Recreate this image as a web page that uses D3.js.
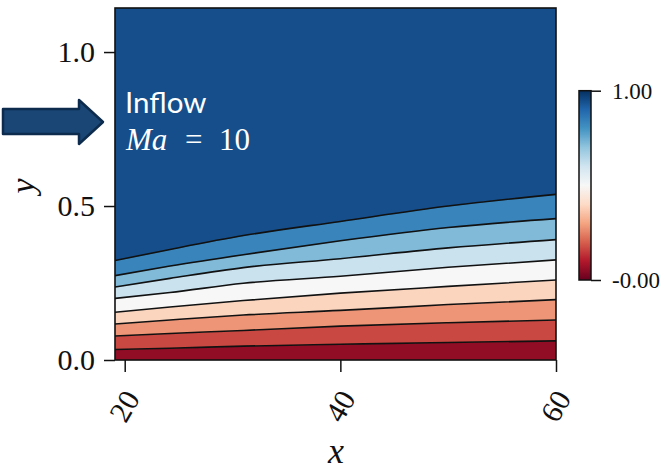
<!DOCTYPE html>
<html>
<head>
<meta charset="utf-8">
<script src="https://cdn.jsdelivr.net/npm/d3@7"></script>
<style>
  html, body { margin: 0; padding: 0; background: #ffffff; }
  svg { display: block; }
</style>
</head>
<body>
<svg id="chart" width="665" height="471"></svg>
<script>
// ---------------- data ----------------
// x stations where contour heights were read
const xStations = [19.1, 24.2, 31, 40, 50, 60];
// contour levels (linspace 0..1, 10 levels -> 9 bands)
const levels = [0, 0.111, 0.222, 0.333, 0.444, 0.556, 0.667, 0.778, 0.889, 1.0];
// y position of each interior contour line (level 0.111 ... 0.889) at each station
const line111 = [0.034, 0.038, 0.045, 0.051, 0.057, 0.062];
const line222 = [0.078, 0.086, 0.096, 0.110, 0.121, 0.130];
const line333 = [0.117, 0.130, 0.146, 0.161, 0.180, 0.196];
const line444 = [0.155, 0.172, 0.193, 0.217, 0.239, 0.260];
const line556 = [0.200, 0.219, 0.249, 0.272, 0.301, 0.325];
const line667 = [0.237, 0.265, 0.300, 0.329, 0.364, 0.391];
const line778 = [0.274, 0.305, 0.342, 0.387, 0.430, 0.459];
const line889 = [0.323, 0.359, 0.404, 0.450, 0.500, 0.538];
const xDomain = [19.1, 60];
const yDomain = [0, 1.143];
const xTicks = [20, 40, 60];
const yTicks = [0.0, 0.5, 1.0];
const cbarTickValues = [0, 1];
const cbarTickLabels = ["-0.00", "1.00"];
// RdBu colormap stops (ColorBrewer), linear as in matplotlib
const rdbuStops = ["#67001f","#b2182b","#d6604d","#f4a582","#fddbc7","#f7f7f7",
                   "#d1e5f0","#92c5de","#4393c3","#2166ac","#053061"];

// ---------------- layout ----------------
const svg = d3.select("#chart");
const L = 115, R = 556, T = 8, B = 360;
const x = d3.scaleLinear().domain(xDomain).range([L, R]);
const y = d3.scaleLinear().domain(yDomain).range([B, T]);
const cmap = d3.scaleLinear()
  .domain(d3.range(11).map(i => i / 10))
  .range(rdbuStops)
  .interpolate(d3.interpolateRgb)
  .clamp(true);

// band boundaries: bottom (0), interior lines, top (ymax)
const bottomLine = xStations.map(() => yDomain[0]);
const topLine = xStations.map(() => yDomain[1]);
const interior = [line111, line222, line333, line444, line556, line667, line778, line889];
const bounds = [bottomLine, ...interior, topLine];

const defs = svg.append("defs");
defs.append("clipPath").attr("id", "plotclip")
  .append("rect").attr("x", L).attr("y", T).attr("width", R - L).attr("height", B - T);

const plot = svg.append("g").attr("clip-path", "url(#plotclip)");
const curve = d3.curveMonotoneX;
const area = d3.area()
  .x(d => x(d.x))
  .y0(d => y(d.lo))
  .y1(d => y(d.hi))
  .curve(curve);

for (let b = 0; b < levels.length - 1; b++) {
  const lo = bounds[b], hi = bounds[b + 1];
  const pts = xStations.map((xs, i) => ({ x: xs, lo: lo[i], hi: hi[i] }));
  const mid = (levels[b] + levels[b + 1]) / 2;
  plot.append("path")
    .datum(pts)
    .attr("d", area)
    .attr("fill", cmap(mid))
    .attr("stroke", cmap(mid))
    .attr("stroke-width", 0.6);
}

const line = d3.line().x(d => x(d.x)).y(d => y(d.v)).curve(curve);
interior.forEach(arr => {
  plot.append("path")
    .datum(xStations.map((xs, i) => ({ x: xs, v: arr[i] })))
    .attr("d", line)
    .attr("fill", "none")
    .attr("stroke", "#111")
    .attr("stroke-width", 1.6);
});

// frame
svg.append("rect")
  .attr("x", L).attr("y", T).attr("width", R - L).attr("height", B - T)
  .attr("fill", "none").attr("stroke", "#111").attr("stroke-width", 1.6);

// axes
const serif = "'Liberation Serif', 'Times New Roman', serif";
const yAxis = svg.append("g")
  .attr("transform", `translate(${L},0)`)
  .call(d3.axisLeft(y).tickValues(yTicks).tickFormat(d3.format(".1f")).tickSize(11).tickPadding(9));
yAxis.select(".domain").remove();
yAxis.selectAll(".tick line").attr("stroke", "#111").attr("stroke-width", 1.5);
yAxis.selectAll(".tick text").attr("font-family", serif).attr("font-size", 30).attr("fill", "#111");

const xAxis = svg.append("g")
  .attr("transform", `translate(0,${B})`)
  .call(d3.axisBottom(x).tickValues(xTicks).tickFormat(d3.format("d")).tickSize(12));
xAxis.select(".domain").remove();
xAxis.selectAll(".tick line").attr("stroke", "#111").attr("stroke-width", 1.5);
xAxis.selectAll(".tick text")
  .attr("font-family", serif).attr("font-size", 30).attr("fill", "#111")
  .attr("y", 0).attr("dy", null)
  .attr("text-anchor", "middle")
  .attr("dominant-baseline", "central")
  .attr("transform", "translate(-1,46) rotate(-60)");

// axis labels
svg.append("text")
  .attr("x", 336).attr("y", 463)
  .attr("text-anchor", "middle")
  .attr("font-family", serif).attr("font-style", "italic").attr("font-size", 36)
  .attr("fill", "#111").text("x");
svg.append("text")
  .attr("transform", "translate(34,186) rotate(-90)")
  .attr("text-anchor", "middle")
  .attr("font-family", serif).attr("font-style", "italic").attr("font-size", 34)
  .attr("fill", "#111").text("y");

// colorbar
const cbL = 579, cbW = 12, cbT = 90.7, cbB = 280;
const cy = d3.scaleLinear().domain([0, 1]).range([cbB, cbT]);
const grad = defs.append("linearGradient")
  .attr("id", "cbgrad").attr("x1", 0).attr("y1", 1).attr("x2", 0).attr("y2", 0);
rdbuStops.forEach((c, i) => {
  grad.append("stop").attr("offset", i / (rdbuStops.length - 1)).attr("stop-color", c);
});
svg.append("rect")
  .attr("x", cbL).attr("y", cbT).attr("width", cbW).attr("height", cbB - cbT)
  .attr("fill", "url(#cbgrad)").attr("stroke", "#111").attr("stroke-width", 1.5);
const cAxis = svg.append("g")
  .attr("transform", `translate(${cbL + cbW},0)`)
  .call(d3.axisRight(cy).tickValues(cbarTickValues)
    .tickFormat((d, i) => cbarTickLabels[i]).tickSize(10).tickPadding(11));
cAxis.select(".domain").remove();
cAxis.selectAll(".tick line").attr("stroke", "#111").attr("stroke-width", 1.5);
cAxis.selectAll(".tick text").attr("font-family", serif).attr("font-size", 23).attr("fill", "#111");

// annotation: arrow + text
const arrowPts = [[3, 109], [79, 109], [79, 100], [103, 122], [79, 144], [79, 134], [3, 134]];
svg.append("path")
  .attr("d", d3.line()(arrowPts) + "Z")
  .attr("fill", "#1a4676").attr("stroke", "#0d2b4d").attr("stroke-width", 2.5)
  .attr("stroke-linejoin", "round");

svg.append("text")
  .attr("x", 125).attr("y", 113)
  .attr("font-family", "Lato, 'Open Sans', sans-serif").attr("font-size", 29.5)
  .attr("fill", "#ffffff").text("Inflow");
const ma = svg.append("text")
  .attr("y", 150)
  .attr("font-family", serif).attr("font-size", 31).attr("fill", "#ffffff");
ma.append("tspan").attr("x", 126).attr("font-style", "italic").text("Ma");
ma.append("tspan").attr("x", 185).text("=");
ma.append("tspan").attr("x", 219).text("10");
</script>
</body>
</html>
